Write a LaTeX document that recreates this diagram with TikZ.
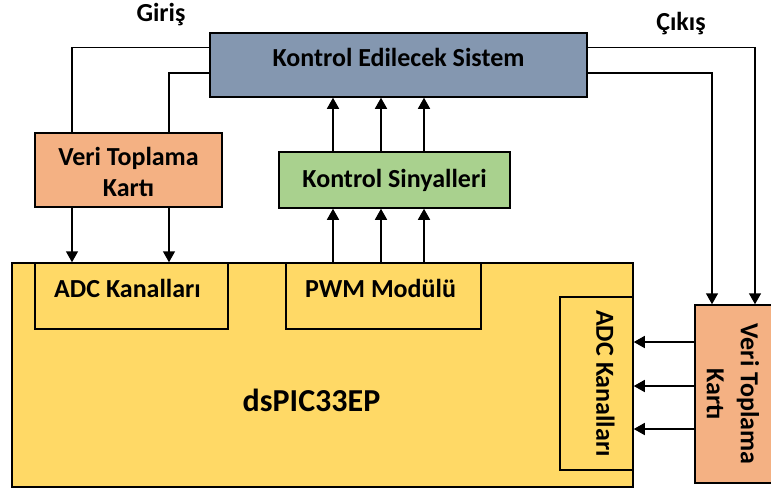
\documentclass[tikz,border=0pt]{standalone}
\usepackage{fontspec}
\setmainfont{Carlito}
\usetikzlibrary{arrows.meta,positioning}

\definecolor{sysblue}{HTML}{8497B0}
\definecolor{cardorange}{HTML}{F4B183}
\definecolor{signalgreen}{HTML}{A9D18E}
\definecolor{chipyellow}{HTML}{FFD966}

\tikzset{
  block/.style={draw, line width=1.5pt, inner sep=0pt},
  lbl/.style={font=\bfseries\fontsize{26}{31}\selectfont, align=center, inner sep=0pt},
  biglbl/.style={lbl, font=\bfseries\fontsize{32}{38}\selectfont},
  sidelbl/.style={lbl, font=\bfseries\fontsize{26}{34}\selectfont, rotate=-90},
  link/.style={line width=1.5pt},
  feed/.style={link, -{Triangle[width=12pt,length=11pt]}},
}

\begin{document}
\begin{tikzpicture}[x=1pt,y=-1pt]
    \useasboundingbox (0,0) rectangle (771,491);

    % system and signal blocks
    \node[block, fill=sysblue, minimum width=377pt, minimum height=64pt] (sys) at (398.5,65) {};
    \node[lbl] (systext) at ([yshift=8pt]sys.center) {Kontrol Edilecek Sistem};

    \node[block, fill=cardorange, minimum width=187pt, minimum height=74pt] (veriL) at (128.5,170) {};
    \node[lbl] (veriLtext) at ([yshift=-2pt]veriL.center) {Veri Toplama\\Kartı};

    \node[block, fill=signalgreen, minimum width=231pt, minimum height=56pt] (kon) at (394.5,180) {};
    \node[lbl] (kontext) at (kon.center) {Kontrol Sinyalleri};

    % the controller
    \node[block, fill=chipyellow, minimum width=621pt, minimum height=224pt] (dspic) at (322.5,375) {};
    \node[biglbl] (dspictext) at ([xshift=-11pt,yshift=-25pt]dspic.center) {dsPIC33EP};

    \node[block, minimum width=193pt, minimum height=66pt] (adcL) at (131.5,296) {};
    \node[lbl] (adcLtext) at ([xshift=-4pt,yshift=8pt]adcL.center) {ADC Kanalları};

    \node[block, minimum width=195pt, minimum height=66pt] (pwm) at (383.5,296) {};
    \node[lbl] (pwmtext) at ([xshift=-3pt,yshift=8pt]pwm.center) {PWM Modülü};

    \node[block, minimum width=73pt, minimum height=173pt] (adcR) at (596.5,383.5) {};
    \node[sidelbl] (adcRtext) at ([xshift=9pt]adcR.center) {ADC Kanalları};

    \node[block, fill=cardorange, minimum width=90pt, minimum height=178pt] (veriR) at (740,394) {};
    \node[sidelbl] (veriRtext) at ([xshift=-7pt]veriR.center) {Veri Toplama\\Kartı};

    % in and out
    \node[lbl] (giris) at (161,15) {Giriş};
    \node[lbl] (cikis) at (681,24) {Çıkış};

    \draw[link] ([yshift=-15pt]sys.north west) -| (72,0 |- veriL.north);
    \draw[link] ([yshift=-8pt]sys.west) -| (169,0 |- veriL.north);
    \draw[feed] ([yshift=-15pt]sys.north east) -| (755,0 |- veriR.north);
    \draw[feed] ([yshift=-8pt]sys.east) -| (712,0 |- veriR.north);

    \foreach \x in {72,169}
        \draw[feed] (\x,0 |- veriL.south) -- (\x,0 |- dspic.north);

    \foreach \x in {333,381,424} {
        \draw[feed] (\x,0 |- pwm.north) -- (\x,0 |- kon.south);
        \draw[feed] (\x,0 |- kon.north) -- (\x,0 |- sys.south);
    }

    \foreach \y in {342,386,429}
        \draw[feed] (veriR.west |- 0,\y) -- (adcR.east |- 0,\y);

\end{tikzpicture}
\end{document}
